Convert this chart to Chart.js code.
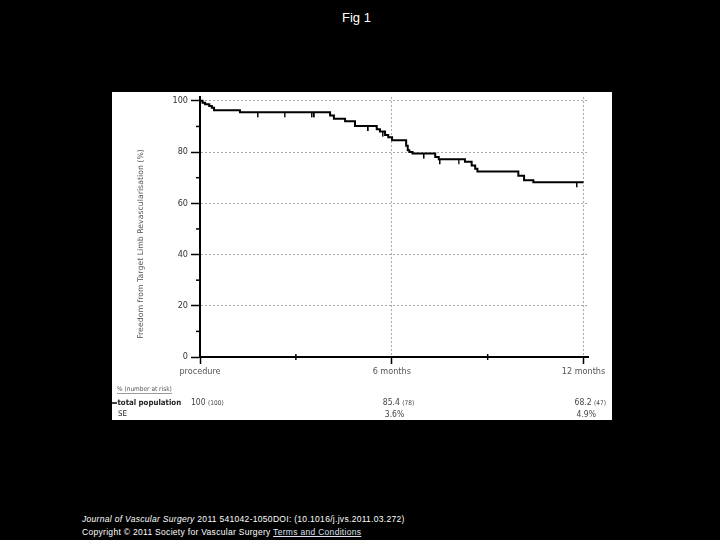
<!DOCTYPE html>
<html>
<head>
<meta charset="utf-8">
<title>Fig 1</title>
<script src="https://cdn.jsdelivr.net/npm/chart.js@4.4.1/dist/chart.umd.min.js"></script>
<style>
  html, body { margin: 0; padding: 0; background: #000; width: 720px; height: 540px; overflow: hidden; font-family: "Liberation Sans", Arial, sans-serif; }
  #title { position: absolute; left: 342px; top: 10px; color: #fff; font-size: 13px; }
  #panel { position: absolute; left: 112px; top: 92px; width: 500px; height: 328px; background: #fff; }
  #footer { position: absolute; left: 82px; top: 513px; color: #fff; font-size: 8.5px; line-height: 13px; letter-spacing: 0.3px; }
  #footer a { color: #dfe3f0; text-decoration: underline; }
</style>
</head>
<body>
<div id="title">Fig 1</div>
<div id="panel"><canvas id="chart" width="500" height="328"></canvas></div>
<div id="footer">
  <div><i>Journal of Vascular Surgery</i> 2011 541042-1050DOI: (10.1016/j.jvs.2011.03.272)</div>
  <div>Copyright © 2011 Society for Vascular Surgery <a>Terms and Conditions</a></div>
</div>
<script>
// Kaplan-Meier steps: month of event, freedom (%) after it
const months = [0, 0.08, 0.16, 0.29, 0.37, 0.44, 1.25, 4.07, 4.19, 4.54, 4.85, 5.53, 5.63, 5.79, 5.89, 6.01,
    6.45, 6.5, 6.55, 6.65, 7.36, 7.47, 8.29, 8.5, 8.61, 8.68, 9.96, 10.14, 10.43, 12];
const freedom = [100, 99.3, 98.7, 98.0, 97.3, 96.3, 95.5, 94.3, 93.0, 92.0, 90.2, 88.9, 88.0, 86.7, 85.8, 84.6,
    82.5, 80.7, 80.0, 79.4, 78.1, 77.2, 76.2, 74.8, 73.5, 72.4, 70.8, 69.0, 68.2, 68.2];

// censored patients
const censorMonths = [1.81, 2.65, 3.5, 3.58, 5.27, 5.72, 7.01, 7.51, 8.09, 11.79];
const censorFreedom = [95.5, 95.5, 95.5, 95.5, 90.2, 88.0, 79.4, 77.2, 77.2, 68.2];

const xTickMonths = [0, 6, 12];
const xTickLabels = ['procedure', '6 months', '12 months'];
const xMinorTicks = [3, 9];
const yTickValues = [0, 20, 40, 60, 80, 100];
const yMinorTicks = [10, 30, 50, 70, 90];

// number at risk table
const riskPercent = ['100', '85.4', '68.2'];
const riskNumber = ['(100)', '(78)', '(47)'];
const riskSE = ['', '3.6%', '4.9%'];

document.addEventListener('DOMContentLoaded', () => {
    // small downward tick used as censor marker
    const censorMark = document.createElement('canvas');
    censorMark.width = 2;
    censorMark.height = 12;
    const mctx = censorMark.getContext('2d');
    mctx.fillStyle = '#000';
    mctx.fillRect(0, 6, 1.5, 5);

    const kmData = months.map((m, i) => ({ x: m, y: freedom[i] }));
    const censorData = censorMonths.map((m, i) => ({ x: m, y: censorFreedom[i] }));

    const annotations = {
        id: 'annotations',
        afterDraw(chart) {
            const ctx = chart.ctx;
            const x = chart.scales.x;
            const y = chart.scales.y;
            ctx.save();

            // minor ticks
            ctx.strokeStyle = '#000';
            ctx.lineWidth = 1.5;
            yMinorTicks.forEach(v => {
                const py = y.getPixelForValue(v);
                ctx.beginPath();
                ctx.moveTo(x.left - 4, py);
                ctx.lineTo(x.left, py);
                ctx.stroke();
            });
            xMinorTicks.forEach(v => {
                const px = x.getPixelForValue(v);
                ctx.beginPath();
                ctx.moveTo(px, y.bottom - 3);
                ctx.lineTo(px, y.bottom + 3);
                ctx.stroke();
            });

            // y axis title
            ctx.fillStyle = '#555';
            ctx.font = '7.8px "DejaVu Sans", sans-serif';
            ctx.textAlign = 'center';
            ctx.textBaseline = 'middle';
            ctx.translate(29, 152);
            ctx.rotate(-Math.PI / 2);
            ctx.fillText('Freedom from Target Limb Revascularisation (%)', 0, 0);
            ctx.setTransform(chart.currentDevicePixelRatio, 0, 0, chart.currentDevicePixelRatio, 0, 0);

            // number at risk table
            ctx.textAlign = 'left';
            ctx.textBaseline = 'middle';
            ctx.fillStyle = '#555';
            ctx.font = '6.5px "DejaVu Sans Condensed", sans-serif';
            const head = '% (number at risk)';
            ctx.fillText(head, 5, 297);
            ctx.strokeStyle = '#555';
            ctx.lineWidth = 0.6;
            ctx.beginPath();
            ctx.moveTo(5, 301.5);
            ctx.lineTo(5 + ctx.measureText(head).width, 301.5);
            ctx.stroke();

            ctx.strokeStyle = '#000';
            ctx.lineWidth = 1.5;
            ctx.beginPath();
            ctx.moveTo(0, 311);
            ctx.lineTo(5, 311);
            ctx.stroke();
            ctx.fillStyle = '#222';
            ctx.font = 'bold 7.8px "DejaVu Sans Condensed", sans-serif';
            ctx.fillText('total population', 5.5, 311);
            ctx.font = '7.8px "DejaVu Sans Condensed", sans-serif';
            ctx.fillText('SE', 6, 322);

            xTickMonths.forEach((m, i) => {
                const px = x.getPixelForValue(m) - 9;
                ctx.fillStyle = '#444';
                ctx.font = '8.5px "DejaVu Sans Condensed", sans-serif';
                ctx.fillText(riskPercent[i], px, 311);
                const w = ctx.measureText(riskPercent[i] + ' ').width;
                ctx.font = '6.5px "DejaVu Sans Condensed", sans-serif';
                ctx.fillText(riskNumber[i], px + w, 311);
                ctx.font = '8.5px "DejaVu Sans Condensed", sans-serif';
                if (riskSE[i]) ctx.fillText(riskSE[i], px + 2, 323);
            });
            ctx.restore();
        }
    };

    new Chart(document.getElementById('chart'), {
        type: 'line',
        data: {
            datasets: [{
                label: 'total population',
                data: kmData,
                borderColor: '#000',
                borderWidth: 2,
                stepped: true,
                pointRadius: 0,
                fill: false
            }, {
                label: 'censored',
                data: censorData,
                showLine: false,
                pointStyle: censorMark,
                pointRadius: 3
            }]
        },
        options: {
            responsive: false,
            animation: false,
            layout: { padding: { left: 0, right: 24, top: 3, bottom: 43 } },
            plugins: {
                legend: { display: false },
                tooltip: { enabled: false }
            },
            scales: {
                x: {
                    type: 'linear',
                    min: 0,
                    max: 12.14,
                    afterBuildTicks: scale => { scale.ticks = xTickMonths.map(v => ({ value: v })); },
                    afterFit: scale => { scale.height = 20; scale.paddingLeft = 0; scale.paddingRight = 0; },
                    ticks: {
                        autoSkip: false,
                        maxRotation: 0,
                        padding: 2,
                        color: '#555',
                        font: { size: 9, family: '"DejaVu Sans Condensed", sans-serif' },
                        callback: v => xTickLabels[xTickMonths.indexOf(v)]
                    },
                    grid: {
                        color: c => (c.tick && c.tick.value === 0) ? 'rgba(0,0,0,0)' : '#a8a8a8',
                        lineWidth: 1,
                        tickColor: '#000',
                        tickWidth: 1.5,
                        tickLength: 7
                    },
                    border: { color: '#000', width: 2, dash: [2, 2] }
                },
                y: {
                    min: 0,
                    max: 101.5,
                    afterBuildTicks: scale => { scale.ticks = yTickValues.map(v => ({ value: v })); },
                    afterFit: scale => { scale.width = 88; scale.paddingTop = 0; scale.paddingBottom = 0; },
                    ticks: {
                        padding: 3,
                        color: '#333',
                        font: { size: 9, family: '"DejaVu Sans Condensed", sans-serif' }
                    },
                    grid: {
                        color: c => (c.tick && c.tick.value === 0) ? 'rgba(0,0,0,0)' : '#a8a8a8',
                        lineWidth: 1,
                        tickColor: '#000',
                        tickWidth: 1.5,
                        tickLength: 9
                    },
                    border: { color: '#000', width: 2, dash: [2, 2] }
                }
            }
        },
        plugins: [annotations]
    });
});
</script>
</body>
</html>
